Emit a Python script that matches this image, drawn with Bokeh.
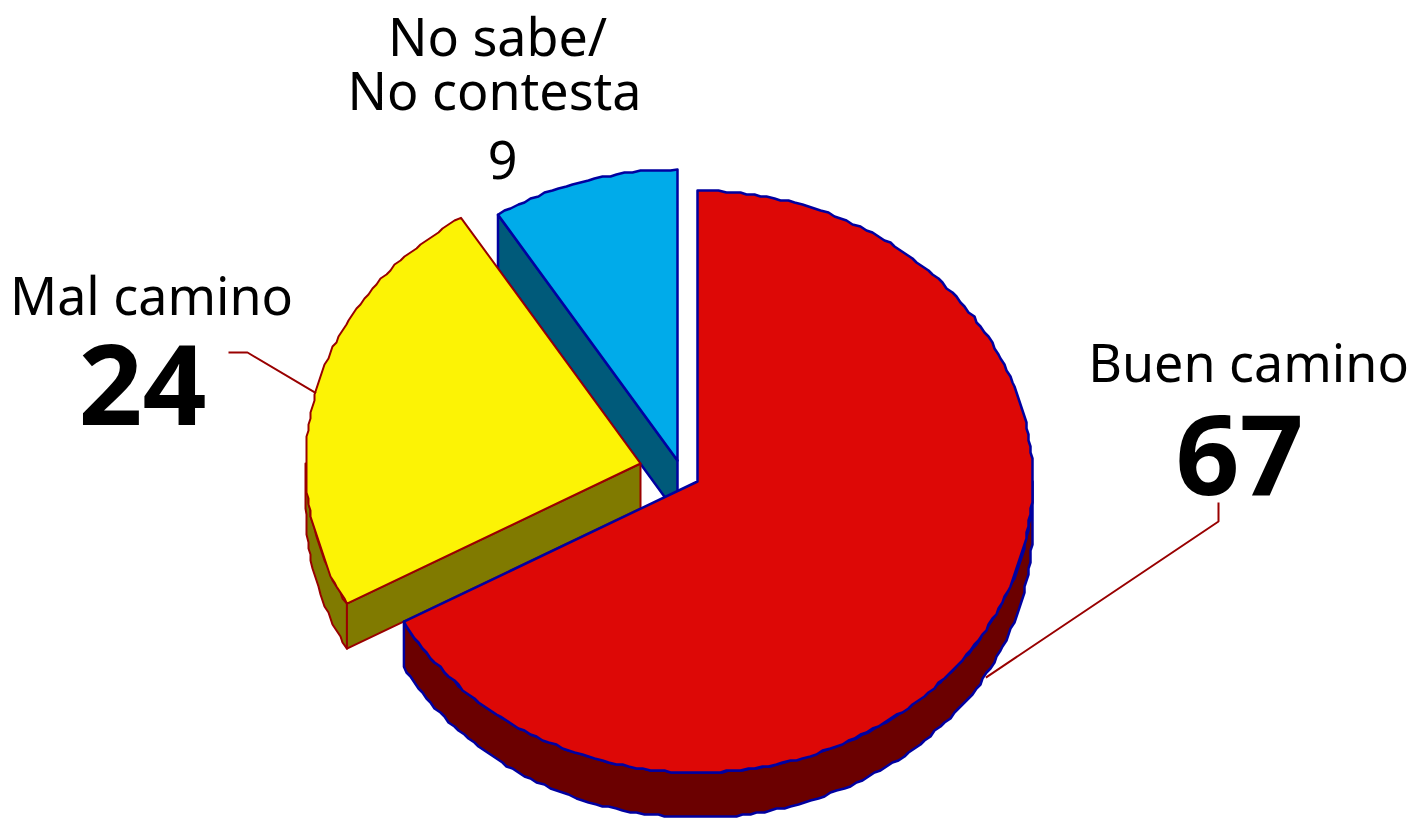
import numpy as np
from bokeh.plotting import figure
from bokeh.models import Range1d
from bokeh.core.properties import value
from bokeh.embed import file_html
from bokeh.resources import INLINE

categories = ["Buen camino", "Mal camino", "No sabe/\nNo contesta"]
values = [67, 24, 9]

top_col = ["#DD0806", "#FCF305", "#00ABEA"]
side_col = ["#6B0000", "#807A00", "#005A7A"]
edge_col = ["#0000A0", "#990000", "#0000A0"]

# layout (page pixels)
RX, RY, DEPTH = 335, 291, 45
centers = [(697, 481), (640, 463), (677, 460)]
BLUE_DEPTH = 54

W, H = 1412, 819
p = figure(width=W, height=H, output_backend="svg", toolbar_location=None,
           x_range=Range1d(0, W), y_range=Range1d(H, 0),
           x_axis_type=None, y_axis_type=None, min_border=0,
           outline_line_color=None, background_fill_color="white")
p.grid.visible = False

cum = np.cumsum([0] + values) / sum(values) * 360


def arc(c, a0, a1, dy=0, snap=2.0):
    n = max(2, int(abs(a1 - a0) / 1.2))
    t = np.radians(np.linspace(a0, a1, n))
    x = c[0] + RX * np.sin(t)
    y = c[1] - RY * np.cos(t) + dy
    x[1:-1] = np.round(x[1:-1] / snap) * snap
    y[1:-1] = np.round(y[1:-1] / snap) * snap
    return list(x), list(y)


def pt(c, a, dy=0):
    t = np.radians(a)
    return c[0] + RX * np.sin(t), c[1] - RY * np.cos(t) + dy


def patch(xs, ys, fill, line):
    lw = 2.5 if line == "#0000A0" else 2
    p.patch(xs, ys, fill_color=fill, line_color=line, line_width=lw, line_join="round")


def wall(c, a, fill, line, depth=DEPTH):
    x, y = pt(c, a)
    patch([x, c[0], c[0], x], [y, c[1], c[1] + depth, y + depth], fill, line)


def rim(c, a0, a1, fill, line):
    x0, y0 = arc(c, a0, a1)
    x1, y1 = arc(c, a0, a1, DEPTH)
    patch(x0 + x1[::-1], y0 + y1[::-1], fill, line)


def top(c, a0, a1, fill, line):
    x, y = arc(c, a0, a1)
    patch([c[0]] + x, [c[1]] + y, fill, line)


# No sabe
wall(centers[2], cum[2], side_col[2], edge_col[2], BLUE_DEPTH)
top(centers[2], cum[2], cum[3], top_col[2], edge_col[2])
# Mal camino
rim(centers[1], cum[1], 270, side_col[1], edge_col[1])
wall(centers[1], cum[1], side_col[1], edge_col[1])
top(centers[1], cum[1], cum[2], top_col[1], edge_col[1])
# Buen camino
rim(centers[0], 90, cum[1], side_col[0], edge_col[0])
top(centers[0], cum[0], cum[1], top_col[0], edge_col[0])

# leader lines: from the middle of a slice to its label
ax, ay = pt(centers[0], (cum[0] + cum[1]) / 2, DEPTH + 3)
p.line([1218, 1218, ax], [502, 521, ay], line_color="#990000", line_width=2)
bx, by = pt(centers[1], (cum[1] + cum[2]) / 2, 2)
p.line([228, 247, bx], [352, 352, by], line_color="#990000", line_width=2)


def label(x, y, s, size, style="normal"):
    p.text([x], [y - 0.385 * size], text=[s], text_font=value("Noto Sans"),
           text_font_size=f"{size}px", text_font_style=style, text_align="center",
           text_baseline="alphabetic", text_color="black")


l0, l1 = categories[2].split("\n")
label(497, 55, l0, 52)
label(494, 109, l1, 52)
label(502, 180, str(values[2]), 52)
label(151, 314, categories[1], 52)
label(142, 428, str(values[1]), 112, "bold")
label(1248, 381, categories[0], 52)
label(1239, 498, str(values[0]), 112, "bold")

open("out.html", "w").write(file_html(p, INLINE))
